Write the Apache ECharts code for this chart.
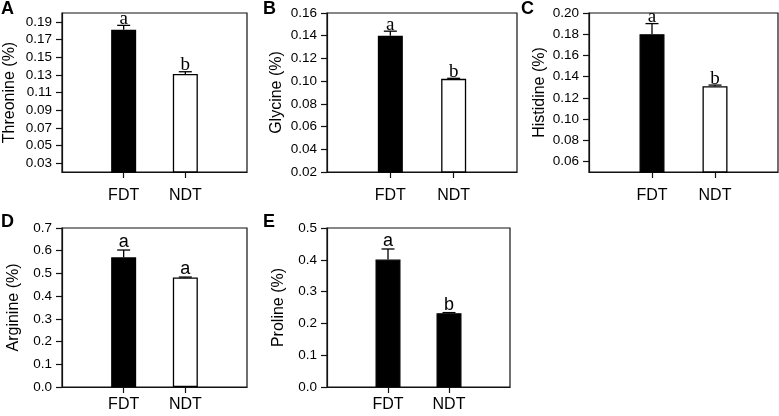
<!DOCTYPE html>
<html>
<head>
<meta charset="utf-8">
<script src="https://cdn.jsdelivr.net/npm/echarts@6/dist/echarts.min.js"></script>
<style>html,body{margin:0;padding:0;background:#fff}#c{width:779px;height:416px}</style>
</head>
<body>
<div id="c"></div>
<script>
// ---- data ----
const categories = ['FDT', 'NDT'];

const threonine = [0.181, 0.131];
const threonineErr = [0.005, 0.0025];
const threonineSig = ['a', 'b'];

const glycine = [0.140, 0.102];
const glycineErr = [0.004, 0.0005];
const glycineSig = ['a', 'b'];

const histidine = [0.180, 0.131];
const histidineErr = [0.010, 0.001];
const histidineSig = ['a', 'b'];

const arginine = [0.571, 0.482];
const arginineErr = [0.032, 0.002];
const arginineSig = ['a', 'a'];

const proline = [0.401, 0.232];
const prolineErr = [0.033, 0.002];
const prolineSig = ['a', 'b'];

const ticksA = [0.03, 0.05, 0.07, 0.09, 0.11, 0.13, 0.15, 0.17, 0.19];
const ticksB = [0.02, 0.04, 0.06, 0.08, 0.10, 0.12, 0.14, 0.16];
const ticksC = [0.06, 0.08, 0.10, 0.12, 0.14, 0.16, 0.18, 0.20];
const ticksD = [0.0, 0.1, 0.2, 0.3, 0.4, 0.5, 0.6, 0.7];
const ticksE = [0.0, 0.1, 0.2, 0.3, 0.4, 0.5];

// ---- layout / styles ----
const SANS = '"Liberation Sans", Arial, sans-serif';
const SERIF = '"Liberation Serif", "Times New Roman", serif';

const panels = [
  { letter: 'A', name: 'Threonine (%)', vals: threonine, err: threonineErr, sig: threonineSig, ticks: ticksA, min: 0.02, max: 0.20, dec: 2,
    grid: { left: 62, top: 13, width: 185, height: 159 }, nameGap: 44, serif: true, ndtWhite: true, xMargin: 16 },
  { letter: 'B', name: 'Glycine (%)', vals: glycine, err: glycineErr, sig: glycineSig, ticks: ticksB, min: 0.02, max: 0.16, dec: 2,
    grid: { left: 327, top: 13, width: 190, height: 159 }, nameGap: 42, serif: true, ndtWhite: true, xMargin: 16 },
  { letter: 'C', name: 'Histidine (%)', vals: histidine, err: histidineErr, sig: histidineSig, ticks: ticksC, min: 0.05, max: 0.20, dec: 2,
    grid: { left: 589, top: 13, width: 189, height: 159 }, nameGap: 41, serif: true, ndtWhite: true, xMargin: 16 },
  { letter: 'D', name: 'Arginine (%)', vals: arginine, err: arginineErr, sig: arginineSig, ticks: ticksD, min: 0, max: 0.7, dec: 1,
    grid: { left: 62, top: 228, width: 185, height: 159 }, nameGap: 40, serif: false, ndtWhite: true, xMargin: 10 },
  { letter: 'E', name: 'Proline (%)', vals: proline, err: prolineErr, sig: prolineSig, ticks: ticksE, min: 0, max: 0.5, dec: 1,
    grid: { left: 327, top: 228, width: 183, height: 159 }, nameGap: 40, serif: false, ndtWhite: false, xMargin: 10 }
];

const xCats = [''].concat(categories).concat(['']);
const letterPos = [[1, 0], [263, 0], [521, 0], [1, 213], [263, 213]];

const grids = [], xAxes = [], yAxes = [], series = [], graphics = [];

panels.forEach((p, i) => {
  grids.push(Object.assign({ show: true, borderColor: '#111', borderWidth: 1.2, backgroundColor: 'transparent' }, p.grid));
  xAxes.push({
    type: 'category', gridIndex: i, data: xCats, boundaryGap: false,
    axisLine: { lineStyle: { color: '#111', width: 1.2 } },
    axisTick: { show: true, length: 6, inside: false, interval: (idx) => idx === 1 || idx === 2, lineStyle: { color: '#111', width: 1.2 } },
    axisLabel: { interval: (idx) => idx === 1 || idx === 2, color: '#000', fontFamily: 'Liberation Sans', fontSize: 16, margin: p.xMargin },
    splitLine: { show: false }
  });
  yAxes.push({
    type: 'value', gridIndex: i, min: p.min, max: p.max,
    name: p.name, nameLocation: 'middle', nameGap: p.nameGap,
    nameTextStyle: { color: '#000', fontFamily: 'Liberation Sans', fontSize: 16 },
    axisLine: { show: true, lineStyle: { color: '#111', width: 1.2 } },
    axisTick: { show: true, length: 6, customValues: p.ticks, lineStyle: { color: '#111', width: 1.2 } },
    axisLabel: { customValues: p.ticks, color: '#000', fontFamily: 'Liberation Sans', fontSize: 13.5, margin: 10,
      formatter: (v) => Number(v).toFixed(p.dec) },
    splitLine: { show: false }
  });
  const barData = ['-'];
  p.vals.forEach((v, k) => {
    const white = (k === 1 && p.ndtWhite);
    barData.push({ value: v, itemStyle: { color: white ? '#fff' : '#000', borderColor: '#000', borderWidth: 1.3 } });
  });
  barData.push('-');
  series.push({
    type: 'bar', xAxisIndex: i, yAxisIndex: i, data: barData, barWidth: 25, silent: true, z: 2
  });
  const errData = p.vals.map((v, k) => [k + 1, v, p.err[k]]);
  series.push({
    type: 'custom', xAxisIndex: i, yAxisIndex: i, data: errData, silent: true, z: 5,
    renderItem: (params, api) => {
      const x = api.value(0), v = api.value(1), e = api.value(2);
      const base = api.coord([x, v]);
      const top = api.coord([x, v + e]);
      const sig = p.sig[params.dataIndex];
      return {
        type: 'group',
        children: [
          { type: 'line', shape: { x1: base[0], y1: base[1], x2: top[0], y2: top[1] }, style: { stroke: '#000', lineWidth: 1.3 } },
          { type: 'line', shape: { x1: top[0] - 6.5, y1: top[1], x2: top[0] + 6.5, y2: top[1] }, style: { stroke: '#000', lineWidth: 1.3 } },
          { type: 'text', x: top[0], y: top[1] + (p.serif ? 3 : 1),
            style: { text: sig, fill: '#000', fontSize: p.serif ? 19 : 18,
              fontFamily: p.serif ? 'Liberation Serif' : 'Liberation Sans',
              align: 'center', verticalAlign: 'bottom' } }
        ]
      };
    }
  });
  graphics.push({
    type: 'text', left: letterPos[i][0], top: letterPos[i][1],
    style: { text: p.letter, fill: '#000', fontSize: 18, fontWeight: 'bold', fontFamily: 'Liberation Sans' }
  });
});

const chart = echarts.init(document.getElementById('c'), null, { renderer: 'canvas' });
chart.setOption({
  backgroundColor: '#fff',
  animation: false,
  grid: grids,
  xAxis: xAxes,
  yAxis: yAxes,
  series: series,
  graphic: graphics
});
</script>
</body>
</html>
